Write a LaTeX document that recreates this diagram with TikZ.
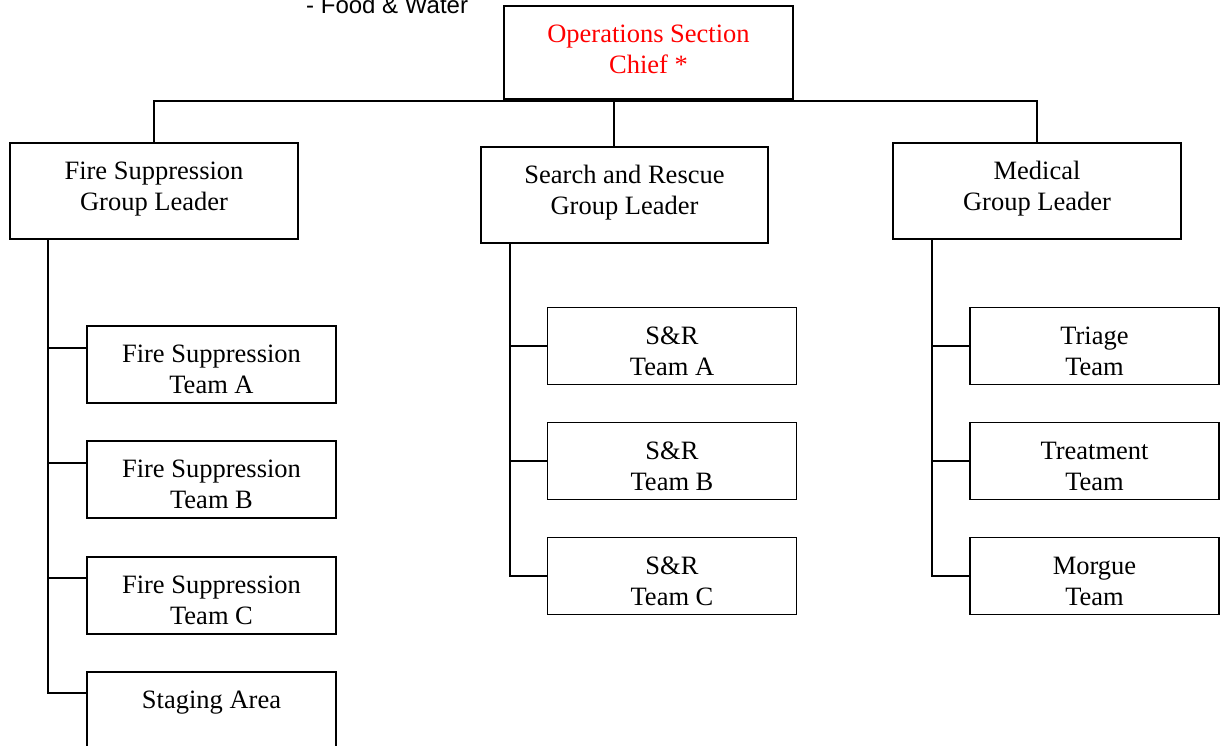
\documentclass[tikz,border=0pt]{standalone}
\usepackage{fontspec}
\setmainfont{Liberation Serif}
\newfontfamily\arialfont{Liberation Sans}
\usepackage{tikz}

\begin{document}
\begin{tikzpicture}[x=1pt, y=-1pt,
    box/.style={draw, line width=1.6pt, minimum width=288pt, minimum height=96pt, inner sep=0pt},
    team/.style={box, minimum width=249pt, minimum height=77pt},
    txt/.style={inner sep=0pt, align=center, font=\fontsize{26.5}{31}\selectfont},
    link/.style={line width=1.6pt}]
  \useasboundingbox (0,0) rectangle (1220,746);

  \node[anchor=base west, inner sep=0pt, font=\arialfont\fontsize{24}{29}\selectfont] (food) at (306,14) {- Food \& Water};

  \node[box, minimum width=289pt, minimum height=93pt, label={[txt, text=red, yshift=3.5pt]center:{Operations Section\\Chief *}}] (osc) at (648.5,52.5) {};

  \node[box, label={[txt, yshift=2pt]center:{Fire Suppression\\Group Leader}}] (fsl) at (154,191) {};
  \node[box, minimum width=287pt, label={[txt, yshift=2pt]center:{Search and Rescue\\Group Leader}}] (srl) at (624.5,195) {};
  \node[box, label={[txt, yshift=2pt]center:{Medical\\Group Leader}}] (mgl) at (1037,191) {};

  \node[team, label={[txt, yshift=-5pt]center:{Fire Suppression\\Team A}}] (fsa) at (211.5,364.5) {};
  \node[team, label={[txt, yshift=-5pt]center:{Fire Suppression\\Team B}}] (fsb) at (211.5,479.5) {};
  \node[team, label={[txt, yshift=-5pt]center:{Fire Suppression\\Team C}}] (fsc) at (211.5,595.5) {};
  \node[team, label={[txt, yshift=-9pt]center:{Staging Area\\ \strut}}] (stage) at (211.5,710.5) {};

  \node[team, label={[txt, yshift=-5pt]center:{S\&R\\Team A}}] (sra) at (672,346) {};
  \node[team, label={[txt, yshift=-5pt]center:{S\&R\\Team B}}] (srb) at (672,461) {};
  \node[team, label={[txt, yshift=-5pt]center:{S\&R\\Team C}}] (src) at (672,576) {};

  \node[team, label={[txt, yshift=-5pt]center:{Triage\\Team}}] (tri) at (1094.5,346) {};
  \node[team, label={[txt, yshift=-5pt]center:{Treatment\\Team}}] (trt) at (1094.5,461) {};
  \node[team, label={[txt, yshift=-5pt]center:{Morgue\\Team}}] (mor) at (1094.5,576) {};

  % bus under the chief, spines under the group leaders
  \coordinate (bus) at (614,101);
  \coordinate (fsspine) at (48,239);
  \coordinate (srspine) at (510,243);
  \coordinate (mgspine) at (932,239);
  \coordinate (fsa-in) at ([yshift=16.5pt]fsa.west);
  \coordinate (fsb-in) at ([yshift=16.5pt]fsb.west);
  \coordinate (fsc-in) at ([yshift=17.5pt]fsc.west);
  \coordinate (stage-in) at ([yshift=17.5pt]stage.west);

  \draw[link] (fsl.north) |- (bus) -| (mgl.north);
  \draw[link] (bus) -- (bus |- srl.north);

  \draw[link] (fsspine) |- (stage-in);
  \draw[link] (fsspine |- fsa-in) -- (fsa-in);
  \draw[link] (fsspine |- fsb-in) -- (fsb-in);
  \draw[link] (fsspine |- fsc-in) -- (fsc-in);

  \draw[link] (srspine) |- (src.west);
  \draw[link] (srspine |- sra.west) -- (sra.west);
  \draw[link] (srspine |- srb.west) -- (srb.west);

  \draw[link] (mgspine) |- (mor.west);
  \draw[link] (mgspine |- tri.west) -- (tri.west);
  \draw[link] (mgspine |- trt.west) -- (trt.west);
\end{tikzpicture}
\end{document}
